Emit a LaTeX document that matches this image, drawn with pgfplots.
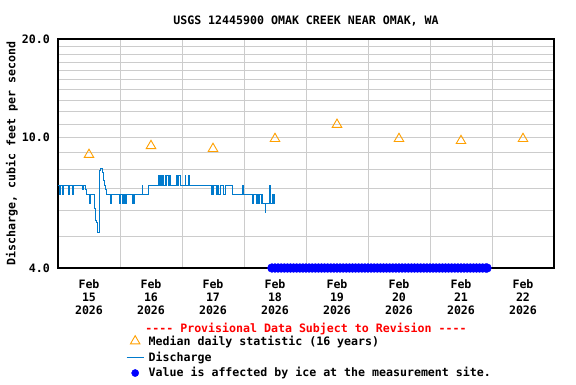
\documentclass[border=0pt]{standalone}
\usepackage{fontspec}
\setmonofont{DejaVu Sans Mono}
\usepackage{pgfplots}
\pgfplotsset{compat=1.18}
\definecolor{disc}{RGB}{0,122,204}
\definecolor{med}{RGB}{255,160,0}
\definecolor{gridc}{RGB}{204,204,204}
\newcommand\f{\ttfamily\fontsize{11.6}{13}\selectfont\bfseries}
\begin{document}
\begin{tikzpicture}
\path[use as bounding box] (-58pt,-116pt) rectangle (518pt,268pt);
\begin{axis}[
  at={(0pt,0pt)}, anchor=south west,
  scale only axis, width=496pt, height=229pt,
  ymode=log, ymin=4, ymax=20,
  xmin=-0.5, xmax=7.5,
  clip=false,
  axis line style={black, line width=1.2pt},
  xtick={0,1,2,3,4,5,6,7},
  xticklabels={{Feb\\15\\2026},{Feb\\16\\2026},{Feb\\17\\2026},{Feb\\18\\2026},{Feb\\19\\2026},{Feb\\20\\2026},{Feb\\21\\2026},{Feb\\22\\2026}},
  minor xtick={0.5,1.5,2.5,3.5,4.5,5.5,6.5},
  xminorgrids=true,
  ytick={4,10,20},
  yticklabels={4.0,10.0,20.0},
  minor ytick={5,6,7,8,9,11,12,13,14,15,16,17,18,19},
  ymajorgrids=true, yminorgrids=true,
  major grid style={gridc, line width=0.9pt},
  minor grid style={gridc, line width=0.9pt},
  major tick length=0pt, minor tick length=0pt,
  /pgf/number format/assume math mode=true,
  tick label style={font=\f},
  xticklabel style={align=center, anchor=north, inner sep=0pt, yshift=-11pt},
  yticklabel style={anchor=east, inner sep=0pt, xshift=-8pt},
  ylabel={Discharge, cubic feet per second},
  ylabel style={font=\f, at={(axis description cs:-0.093,0.5)}, anchor=center, rotate=0},
  legend style={at={(rel axis cs:0,0)}, anchor=north west, xshift=68pt, yshift=-66pt,
     draw=none, fill=none, font=\f, inner sep=0pt, row sep=2pt,
     nodes={inner sep=1.5pt},
     /tikz/every odd column/.append style={column sep=3pt}},
  legend cell align=left,
]
% median daily statistic
\addplot[only marks, mark=triangle, mark size=5.5pt, color=med, mark options={line width=0.9pt}, forget plot]
 coordinates {(0,8.87)(1,9.44)(2,9.25)(3,9.92)(4,10.96)(5,9.92)(6,9.78)(7,9.92)};
% discharge
\addplot[const plot, color=disc, line width=0.9pt, forget plot] coordinates {
(-0.495,7.17)
(-0.478,6.73)(-0.468,7.17)
(-0.430,6.73)(-0.414,7.17)
(-0.333,6.73)(-0.323,7.17)
(-0.269,6.73)(-0.253,7.17)
(-0.107,6.95)(-0.091,7.17)
(-0.050,6.95)(-0.038,6.73)
(0.005,6.31)(0.027,6.73)(0.070,6.73)
(0.086,6.10)(0.108,5.60)(0.124,5.50)(0.140,5.13)(0.162,5.13)
(0.167,7.66)(0.175,7.93)(0.188,8.08)(0.215,7.83)(0.231,7.39)(0.247,7.17)(0.258,6.95)(0.274,6.73)
(0.349,6.31)(0.366,6.73)
(0.489,6.31)(0.495,6.73)(0.500,6.31)(0.511,6.73)
(0.543,6.31)(0.550,6.73)(0.565,6.31)(0.575,6.73)(0.585,6.31)(0.600,6.73)
(0.699,6.31)(0.710,6.73)(0.720,6.31)(0.731,6.73)
(0.860,7.17)(0.870,6.73)
(0.957,7.17)
(1.118,7.66)(1.128,7.17)(1.135,7.66)(1.145,7.17)
(1.172,7.66)(1.180,7.17)(1.190,7.66)(1.199,7.17)
(1.226,7.66)(1.240,7.17)(1.250,7.66)(1.280,7.17)(1.290,7.66)(1.306,7.17)
(1.403,7.66)(1.420,7.17)(1.440,7.66)(1.468,7.17)
(1.548,7.66)(1.560,7.17)(1.600,7.66)(1.618,7.17)
(1.968,6.73)(1.980,7.17)(1.995,6.73)(2.005,7.17)
(2.059,6.73)(2.068,7.17)(2.090,6.73)(2.113,7.17)
(2.167,6.73)(2.194,7.17)
(2.312,6.73)
(2.473,7.17)(2.489,6.73)
(2.634,6.31)(2.650,6.73)
(2.704,6.31)(2.715,6.73)(2.730,6.31)(2.747,6.73)
(2.774,6.31)(2.790,6.73)(2.800,6.31)
(2.839,5.93)(2.845,6.31)
(2.909,7.17)(2.920,6.31)
(2.957,6.73)(2.965,6.31)(2.975,6.73)(2.984,6.31)(2.995,6.31)
};
% ice affected
\addplot[only marks, mark=*, mark size=4.4pt, color=blue, forget plot] coordinates {
(2.95,4)(3.00,4)(3.05,4)(3.10,4)(3.15,4)(3.20,4)(3.25,4)(3.30,4)(3.35,4)(3.40,4)
(3.45,4)(3.50,4)(3.55,4)(3.60,4)(3.65,4)(3.70,4)(3.75,4)(3.80,4)(3.85,4)(3.90,4)
(3.95,4)(4.00,4)(4.05,4)(4.10,4)(4.15,4)(4.20,4)(4.25,4)(4.30,4)(4.35,4)(4.40,4)
(4.45,4)(4.50,4)(4.55,4)(4.60,4)(4.65,4)(4.70,4)(4.75,4)(4.80,4)(4.85,4)(4.90,4)
(4.95,4)(5.00,4)(5.05,4)(5.10,4)(5.15,4)(5.20,4)(5.25,4)(5.30,4)(5.35,4)(5.40,4)
(5.45,4)(5.50,4)(5.55,4)(5.60,4)(5.65,4)(5.70,4)(5.75,4)(5.80,4)(5.85,4)(5.90,4)
(5.95,4)(6.00,4)(6.05,4)(6.10,4)(6.15,4)(6.20,4)(6.25,4)(6.30,4)(6.35,4)(6.40,4)(6.42,4)
};
\addlegendimage{only marks, mark=triangle, mark size=5.5pt, color=med, mark options={line width=0.9pt}}
\addlegendentry{Median daily statistic (16 years)}
\addlegendimage{draw=disc, line width=0.9pt}
\addlegendentry{Discharge}
\addlegendimage{only marks, mark=*, mark size=3.6pt, color=blue}
\addlegendentry{Value is affected by ice at the measurement site.}
\node[anchor=base, font=\f] at ([yshift=15pt]rel axis cs:0.5,1) {USGS 12445900 OMAK CREEK NEAR OMAK, WA};
\node[anchor=base, font=\f, text=red] at ([yshift=-64pt]rel axis cs:0.5,0) {---- Provisional Data Subject to Revision ----};
\end{axis}
\end{tikzpicture}
\end{document}
